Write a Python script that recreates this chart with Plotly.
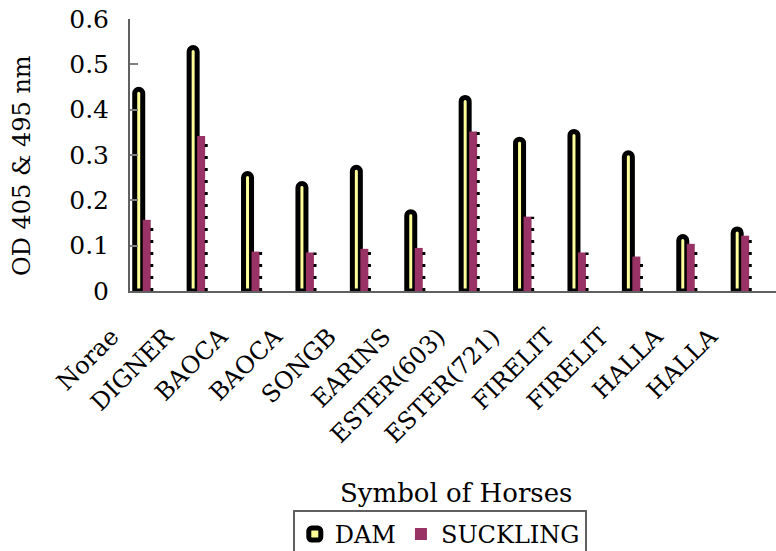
import plotly.graph_objects as go

categories = ["Norae", "DIGNER", "BAOCA", "BAOCA", "SONGB", "EARINS",
              "ESTER(603)", "ESTER(721)", "FIRELIT", "FIRELIT", "HALLA", "HALLA"]
dam = [0.445, 0.537, 0.259, 0.237, 0.273, 0.175, 0.427, 0.335, 0.352, 0.305, 0.120, 0.137]
suckling = [0.157, 0.342, 0.087, 0.085, 0.093, 0.095, 0.352, 0.164, 0.085, 0.076, 0.104, 0.122]
y_ticks = [0, 0.1, 0.2, 0.3, 0.4, 0.5, 0.6]

FONT = "DejaVu Serif"
BAR_W = 0.147
idx = list(range(len(categories)))

fig = go.Figure()
fig.add_trace(go.Bar(
    x=idx, y=dam, name="DAM", width=BAR_W, offset=-BAR_W,
    marker=dict(color="#FFFF99", line=dict(color="black", width=5), cornerradius=4),
    cliponaxis=False,
))
fig.add_trace(go.Bar(
    x=idx, y=suckling, name="SUCKLING", width=BAR_W, offset=0,
    marker=dict(color="#993366", line=dict(color="#993366", width=0)),
))
# dotted right edge of suckling bars
dx, dy = [], []
for i, v in zip(idx, suckling):
    dx += [i + BAR_W + 0.02, i + BAR_W + 0.02, None]
    dy += [0, v, None]
fig.add_trace(go.Scatter(x=dx, y=dy, mode="lines", showlegend=False, hoverinfo="skip",
                         line=dict(color="black", width=3, dash="3px,9px")))

pair_ticks = []
for i in idx:
    pair_ticks += [i - 0.26, i + 0.26]

xr = [-0.234, 11.64]
fig.update_layout(
    width=776, height=551, autosize=False,
    margin=dict(l=130, r=0, t=19, b=260, autoexpand=False),
    paper_bgcolor="white", plot_bgcolor="white",
    barmode="overlay",
    font=dict(family=FONT, color="black", size=22),
    showlegend=True,
    legend=dict(orientation="h", x=0.252, y=-0.805, xanchor="left", yanchor="top",
                bordercolor="#606060", borderwidth=2, font=dict(size=24, family=FONT),
                itemwidth=30, traceorder="normal"),
    xaxis=dict(range=xr, tickvals=idx, ticktext=categories, tickangle=-45,
               ticks="", showline=True, linecolor="#606060", linewidth=2,
               showgrid=False, zeroline=False, tickfont=dict(size=24, family=FONT),
               ticklabelshift=-31, ticklabelstandoff=20),
    xaxis2=dict(range=xr, overlaying="x", anchor="y", side="bottom",
                tickvals=pair_ticks, ticks="inside", ticklen=7, tickcolor="#808080",
                tickwidth=2, showticklabels=False, showline=False, showgrid=False,
                zeroline=False),
    yaxis=dict(range=[0, 0.6], tickvals=y_ticks, ticks="inside", ticklen=8,
               tickcolor="#808080", tickwidth=2, showline=True, linecolor="#606060",
               linewidth=2, showgrid=False, zeroline=False,
               tickfont=dict(size=25, family=FONT), ticklabelstandoff=14),
    annotations=[
        dict(text="OD 405 & 495 nm", textangle=-90, xref="paper", yref="paper",
             x=-0.167, y=0.46, showarrow=False, font=dict(size=24, family=FONT),
             xanchor="center", yanchor="middle"),
        dict(text="Symbol of Horses", xref="paper", yref="paper",
             x=0.505, y=-0.743, showarrow=False, font=dict(size=26, family=FONT),
             xanchor="center", yanchor="middle"),
    ],
)
fig.write_html("out.html", config={"displayModeBar": False},
               post_script="document.body.style.margin='0';")
